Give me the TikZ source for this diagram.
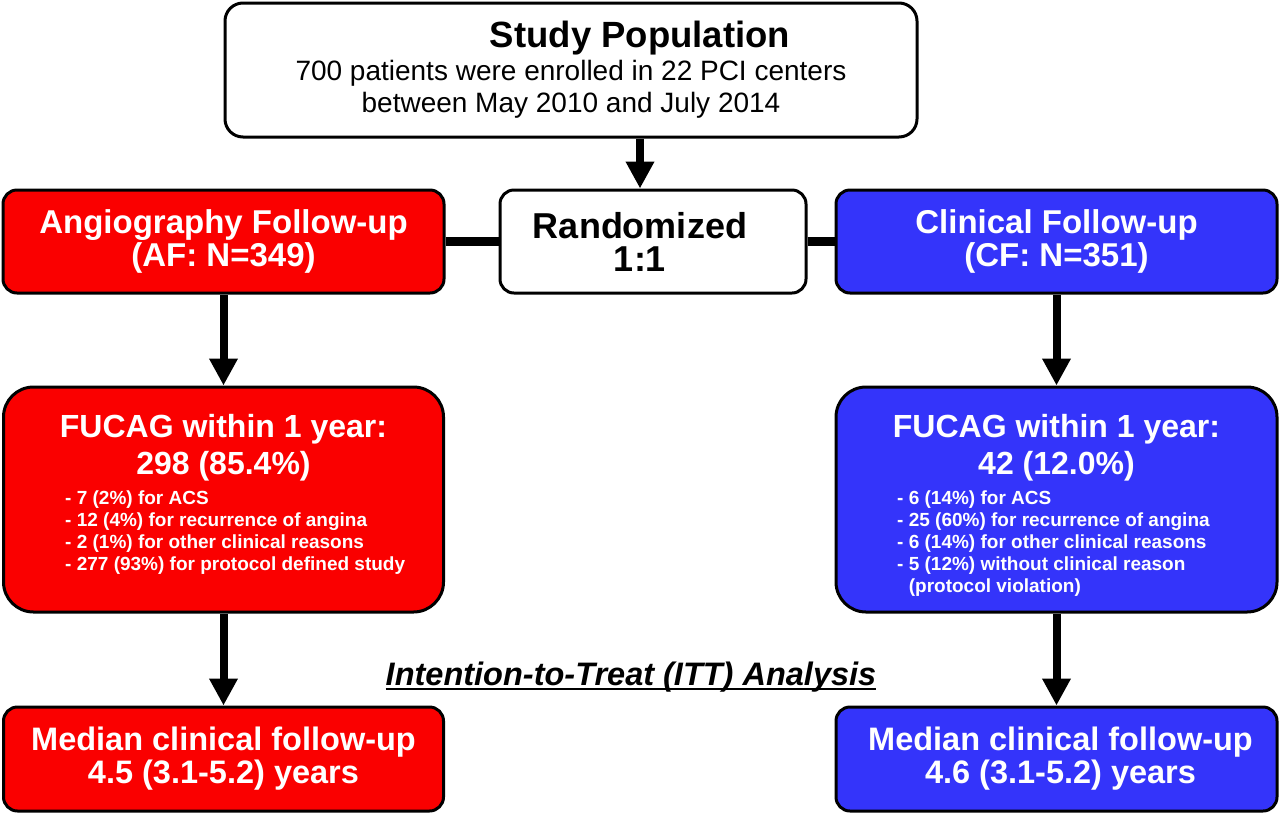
\documentclass[tikz,border=0pt]{standalone}
\usepackage{fontspec}
\setmainfont{Liberation Sans}
\usetikzlibrary{arrows.meta}
\definecolor{afred}{RGB}{250,0,0}
\definecolor{cfblue}{RGB}{52,52,250}
\newcommand\thickul[1]{\setbox0\hbox{#1}\rlap{\raisebox{-5pt}{\rule{\wd0}{2.2pt}}}\box0}
\begin{document}
\begin{tikzpicture}[x=1pt,y=-1pt,
  box/.style={draw=black, line width=3pt, rounded corners=14pt, inner sep=0pt, align=center},
  whitebox/.style={box, fill=white, text=black},
  redbox/.style={box, fill=afred, text=white},
  bluebox/.style={box, fill=cfblue, text=white},
  plain/.style={inner sep=0pt, text=white},
  arr/.style={line width=8pt, -{Triangle[width=27pt,length=27pt]}},
  link/.style={line width=9pt},
  midfont/.style={font=\fontsize{33}{32.5}\selectfont\bfseries},
  medfont/.style={font=\fontsize{32.5}{33}\selectfont\bfseries},
  listfont/.style={font=\fontsize{19}{22}\selectfont\bfseries, align=left},
  fucagfont/.style={font=\fontsize{32}{37}\selectfont\bfseries, align=center}
]
\useasboundingbox (0,0) rectangle (1280,815);

% top box
\node[whitebox, rounded corners=18pt, minimum width=692pt, minimum height=134pt,
      font=\fontsize{28}{32}\selectfont] (study) at (571,70)
  {\hspace*{138pt}{\fontsize{36.5}{36}\selectfont\bfseries Study Population}\\[1pt]
   700 patients were enrolled in 22 PCI centers\\
   between May 2010 and July 2014};

% second row
\node[whitebox, minimum width=306pt, minimum height=103pt,
      font=\fontsize{36}{33}\selectfont\bfseries] (rand) at (653,241.5)
  {Randomized\hspace*{26pt}\\1:1\hspace*{26pt}};
\node[redbox, midfont, minimum width=441pt, minimum height=103pt] (af) at (223.5,241.5)
  {Angiography Follow-up\\(AF: N=349)};
\node[bluebox, midfont, minimum width=441pt, minimum height=103pt] (cf) at (1056.5,241.5)
  {Clinical Follow-up\\(CF: N=351)};

% FUCAG boxes
\node[redbox, rounded corners=30pt, minimum width=440pt, minimum height=225pt] (fl) at (223.5,499.5) {};
\node[bluebox, rounded corners=30pt, minimum width=441pt, minimum height=225pt] (fr) at (1056.5,499.5) {};

\node[plain, fucagfont, anchor=north] (flt) at ([yshift=-29pt]fl.north)
  {FUCAG within 1 year:\\298 (85.4\%)};
\node[plain, listfont, anchor=north west] (fll) at (65,491)
  {- 7 (2\%) for ACS\\
   - 12 (4\%) for recurrence of angina\\
   - 2 (1\%) for other clinical reasons\\
   - 277 (93\%) for protocol defined study};

\node[plain, fucagfont, anchor=north] (frt) at ([yshift=-29pt]fr.north)
  {FUCAG within 1 year:\\42 (12.0\%)};
\node[plain, listfont, anchor=north west] (frl) at (897,491)
  {- 6 (14\%) for ACS\\
   - 25 (60\%) for recurrence of angina\\
   - 6 (14\%) for other clinical reasons\\
   - 5 (12\%) without clinical reason\\
   \hphantom{- }(protocol violation)};

% median boxes
\node[redbox, medfont, minimum width=440pt, minimum height=104pt] (ml) at (223.5,759)
  {Median clinical follow-up\\4.5 (3.1-5.2) years};
\node[bluebox, medfont, minimum width=441pt, minimum height=104pt] (mr) at (1056.5,759)
  {\hspace*{8pt}Median clinical follow-up\\\hspace*{8pt}4.6 (3.1-5.2) years};

% ITT label
\node[inner sep=0pt, font=\fontsize{32.5}{32}\selectfont\bfseries\itshape] (itt) at (631,677)
  {\thickul{Intention-to-Treat (ITT) Analysis}};

% connectors
\coordinate (rtop) at ([xshift=-13pt]rand.north);
\draw[arr] (rtop |- study.south) -- (rtop);
\draw[link] (af.east) -- (rand.west);
\draw[link] (rand.east) -- (cf.west);
\draw[arr] (af.south) -- (fl.north);
\draw[arr] (cf.south) -- (fr.north);
\draw[arr] (fl.south) -- (ml.north);
\draw[arr] (fr.south) -- (mr.north);
\end{tikzpicture}
\end{document}
